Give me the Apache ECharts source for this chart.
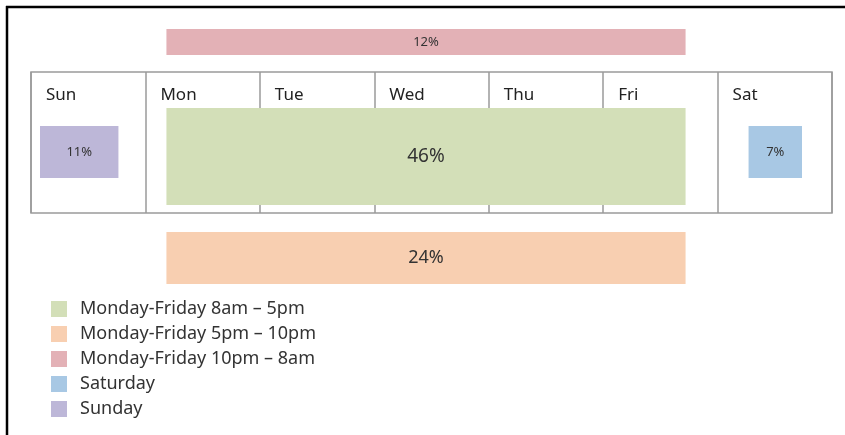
<!DOCTYPE html>
<html>
<head>
<meta charset="utf-8">
<script src="https://cdn.jsdelivr.net/npm/echarts@6/dist/echarts.min.js"></script>
<style>
  html, body { margin: 0; padding: 0; background: #fff; }
  #chart { width: 845px; height: 435px; }
</style>
</head>
<body>
<div id="chart"></div>
<script>
// data
const days = ['Sun', 'Mon', 'Tue', 'Wed', 'Thu', 'Fri', 'Sat']
const bandNames = [
  'Monday-Friday 8am \u2013 5pm',
  'Monday-Friday 5pm \u2013 10pm',
  'Monday-Friday 10pm \u2013 8am',
  'Saturday',
  'Sunday',
]
const bandShares = [46, 24, 12, 7, 11]
const bandFirstDay = [1, 1, 1, 6, 0] // index into days
const bandLastDay = [5, 5, 5, 6, 0]

// layout, pixels relative to the day columns and table top
const bandColors = ['#d3dfb8', '#f8cfb1', '#e3b1b6', '#a8c8e4', '#bdb7d8']
const bandBox = [
  { l: 21, r: -32, t: 36, b: 133, fs: 19 },
  { l: 21, r: -32, t: 160, b: 212, fs: 18 },
  { l: 21, r: -32, t: -43, b: -17, fs: 13 },
  { l: 31, r: -30, t: 54, b: 106, fs: 13 },
  { l: 9, r: -27, t: 54, b: 106, fs: 13 },
]

const chart = echarts.init(document.getElementById('chart'))

const series = bandNames.map((name, i) => ({
  name: name,
  type: 'custom',
  clip: false,
  itemStyle: { color: bandColors[i] },
  data: [[bandFirstDay[i], bandLastDay[i] + 1, bandShares[i]]],
  renderItem: function (params, api) {
    const box = bandBox[i]
    const p0 = api.coord([api.value(0), box.t])
    const p1 = api.coord([api.value(1), box.b])
    const x = p0[0] + box.l
    const w = p1[0] + box.r - x
    return {
      type: 'rect',
      shape: { x: x, y: p0[1], width: w, height: p1[1] - p0[1] },
      style: { fill: bandColors[i] },
      textContent: {
        style: {
          text: api.value(2) + '%',
          fontSize: box.fs,
          fontFamily: 'Noto Sans',
          fill: '#333',
        },
      },
      textConfig: { position: 'inside' },
    }
  },
}))

chart.setOption({
  animation: false,
  backgroundColor: '#fff',
  grid: {
    left: 31,
    right: 13,
    top: 72,
    bottom: 222,
    show: true,
    borderColor: '#9a9a9a',
    borderWidth: 1.5,
  },
  xAxis: {
    type: 'value',
    min: 0,
    max: 7,
    interval: 1,
    position: 'top',
    axisLine: { show: false },
    axisTick: { show: false },
    splitLine: { show: true, lineStyle: { color: '#9a9a9a', width: 1.5 } },
    axisLabel: {
      inside: true,
      margin: 15,
      align: 'left',
      padding: [0, 0, 0, 15],
      fontSize: 17,
      fontFamily: 'Noto Sans',
      color: '#222',
      formatter: (v) => days[v] || '',
    },
  },
  yAxis: {
    type: 'value',
    min: 0,
    max: 141,
    inverse: true,
    show: false,
  },
  legend: {
    orient: 'vertical',
    left: 51,
    top: 300,
    padding: 0,
    icon: 'rect',
    itemWidth: 16,
    itemHeight: 16,
    itemGap: 7,
    selectedMode: false,
    data: bandNames,
    textStyle: { fontSize: 18, fontFamily: 'Noto Sans', color: '#333', padding: [0, 0, 0, 8] },
  },
  graphic: [
    { type: 'line', shape: { x1: 6, y1: 7, x2: 845, y2: 7 }, style: { stroke: '#000', lineWidth: 2.5 } },
    { type: 'line', shape: { x1: 7, y1: 6, x2: 7, y2: 435 }, style: { stroke: '#000', lineWidth: 2.5 } },
  ],
  series: series,
})
</script>
</body>
</html>
